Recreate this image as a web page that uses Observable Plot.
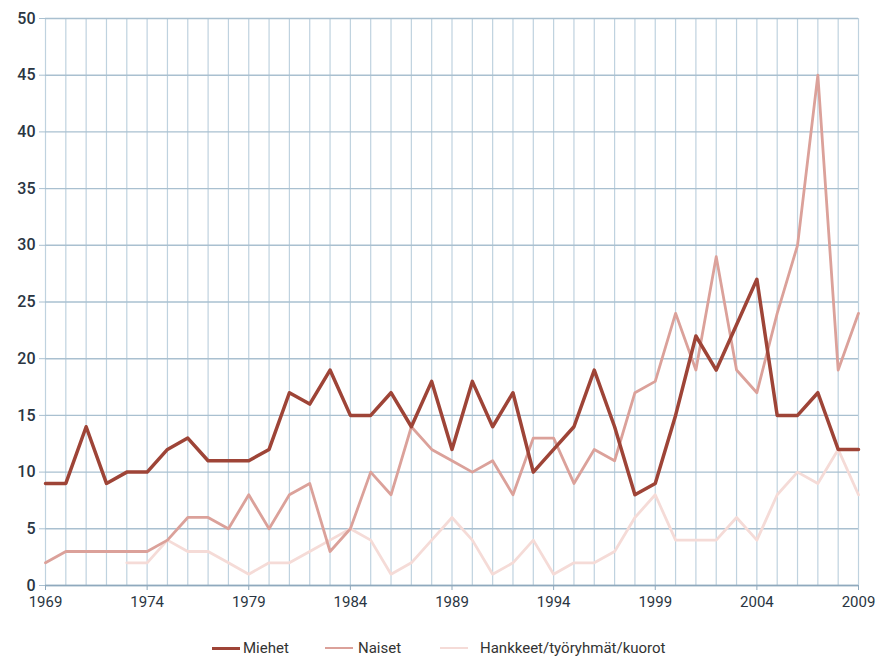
<!DOCTYPE html>
<html>
<head>
<meta charset="utf-8">
<script src="https://cdn.jsdelivr.net/npm/d3@7"></script>
<script src="https://cdn.jsdelivr.net/npm/@observablehq/plot@0.6"></script>
<style>
  html, body { margin: 0; padding: 0; background: #fff; }
  #chart svg { display: block; }
  .legend { position: relative; width: 879px; height: 33px;
    font-family: Roboto, sans-serif; font-size: 15px; color: #333; }
  .legend .item { position: absolute; top: 10px; display: flex; align-items: center; height: 20px; }
  .legend .sw { display: inline-block; width: 28px; }
</style>
</head>
<body>
<div id="chart"></div>
<div class="legend" id="legend"></div>
<script>
const years = d3.range(1969, 2010);
const miehet = [9,9,14,9,10,10,12,13,11,11,11,12,17,16,19,15,15,17,14,18,12,18,14,17,10,12,14,19,14,8,9,15,22,19,23,27,15,15,17,12,12];
const naiset = [2,3,3,3,3,3,4,6,6,5,8,5,8,9,3,5,10,8,14,12,11,10,11,8,13,13,9,12,11,17,18,24,19,29,19,17,24,30,45,19,24];
const hankkeet = [null,null,null,null,2,2,4,3,3,2,1,2,2,3,4,5,4,1,2,4,6,4,1,2,4,1,2,2,3,6,8,4,4,4,6,4,8,10,9,12,8];
const xTicks = [1969,1974,1979,1984,1989,1994,1999,2004,2009];
const yTicks = [0,5,10,15,20,25,30,35,40,45,50];

const seriesNames = ["Miehet", "Naiset", "Hankkeet/työryhmät/kuorot"];
const colors = ["#9e4437", "#dba19a", "#f5dbd7"];
const widths = [3.5, 2.8, 2.8];

const rows = (vals, name) => years.map((y, i) => ({year: y, value: vals[i], series: name}));
const dM = rows(miehet, seriesNames[0]);
const dN = rows(naiset, seriesNames[1]);
const dH = rows(hankkeet, seriesNames[2]).filter(d => d.value != null);

const chart = Plot.plot({
  width: 879,
  height: 628,
  marginLeft: 45,
  marginRight: 21,
  marginTop: 18,
  marginBottom: 43,
  style: { fontFamily: "Roboto, sans-serif", background: "#fff" },
  x: { domain: [1969, 2009], ticks: xTicks, tickFormat: d => String(d), label: null },
  y: { domain: [0, 50], ticks: yTicks, label: null },
  marks: [
    Plot.ruleX(years, { x: d => d, y1: 0, y2: 50, stroke: "#bfd2df", strokeWidth: 1.2 }),
    Plot.ruleY(yTicks, { y: d => d, stroke: "#a9c0d0", strokeWidth: 1.4 }),
    Plot.axisX({ ticks: xTicks, tickFormat: d => String(d), tickSize: 5, tickPadding: 6, fontSize: 15, fill: "#2a3542", stroke: "#8fa9bd" }),
    Plot.axisY({ ticks: yTicks, tickSize: 6, tickPadding: 4, fontSize: 16, fontWeight: 500, fill: "#2a3542", stroke: "#a9c0d0" }),
    Plot.ruleY([0], { stroke: "#8fa9bd", strokeWidth: 1.5 }),
    Plot.line(dH, { x: "year", y: "value", stroke: colors[2], strokeWidth: widths[2] }),
    Plot.line(dN, { x: "year", y: "value", stroke: colors[1], strokeWidth: widths[1] }),
    Plot.line(dM, { x: "year", y: "value", stroke: colors[0], strokeWidth: widths[0] })
  ]
});
document.getElementById("chart").appendChild(chart);

const legend = document.getElementById("legend");
const legendLeft = [212, 325, 440];
const textGap = [3, 5, 12];
seriesNames.forEach((name, i) => {
  const item = document.createElement("div");
  item.className = "item";
  item.style.left = legendLeft[i] + "px";
  const sw = document.createElement("span");
  sw.className = "sw";
  sw.style.borderTop = `${widths[i]}px solid ${colors[i]}`;
  sw.style.marginRight = textGap[i] + "px";
  const t = document.createElement("span");
  t.textContent = name;
  item.appendChild(sw);
  item.appendChild(t);
  legend.appendChild(item);
});
</script>
</body>
</html>
